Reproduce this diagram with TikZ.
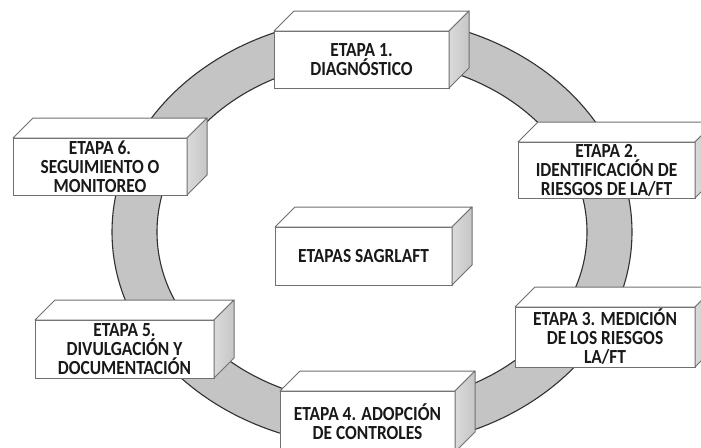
\documentclass[tikz,border=0pt]{standalone}
\usepackage{fontspec}
\setmainfont{Carlito}[FakeStretch=0.87]
\definecolor{ringfill}{HTML}{C4C4C4}
\definecolor{ringedge}{HTML}{303030}
\definecolor{boxedge}{HTML}{707070}
\definecolor{sidel}{HTML}{DADADA}
\definecolor{sider}{HTML}{C6C6C6}
\newcommand\cubefaces[1]{%
  \draw[topface] (#1.north west) -- ++(20,-20) -- ([shift={(20,-20)}]#1.north east) -- (#1.north east) -- cycle;
  \draw[sideface] (#1.north east) -- ++(20,-20) -- ([shift={(20,-20)}]#1.south east) -- (#1.south east) -- cycle;
}
\tikzset{
  front/.style={draw=boxedge, fill=white, line width=1pt, inner sep=0pt, outer sep=0pt,
    align=center, text=black!90, font=\fontsize{20}{19}\selectfont\bfseries},
  topface/.style={draw=boxedge, fill=white, line width=1pt, line join=round},
  sideface/.style={draw=boxedge, left color=sidel, right color=sider, line width=1pt, line join=round},
  ring/.style={fill=ringfill, even odd rule},
  ringline/.style={draw=ringedge, line width=1.1pt}
}
\begin{document}
\begin{tikzpicture}[x=1pt,y=-1pt]
\clip (0,0) rectangle (701,447);
\fill[white] (0,0) rectangle (701,447);
% ring
\coordinate (rc) at (372,232);
\fill[ring] (rc) ellipse [x radius=260, y radius=215] (rc) ellipse [x radius=215, y radius=172];
\draw[ringline] (rc) ellipse [x radius=260, y radius=215];
\draw[ringline] (rc) ellipse [x radius=215, y radius=172];
% boxes
\node[front, minimum width=175, minimum height=57] (b1) at (361.5,59.5) {ETAPA 1.\\DIAGNÓSTICO};
\cubefaces{b1}
\node[front, minimum width=174, minimum height=57] (b6) at (100,166.5) {ETAPA 6.\\SEGUIMIENTO O\\MONITOREO};
\cubefaces{b6}
\node[front, minimum width=177, minimum height=56] (b2) at (606.5,170) {ETAPA 2.\\IDENTIFICACIÓN DE\\RIESGOS DE LA/FT};
\cubefaces{b2}
\node[front, minimum width=177, minimum height=58] (bc) at (363.5,256) {ETAPAS SAGRLAFT};
\cubefaces{bc}
\node[front, minimum width=179, minimum height=58] (b5) at (124.5,349) {ETAPA 5.\\DIVULGACIÓN Y\\DOCUMENTACIÓN};
\cubefaces{b5}
\node[front, minimum width=180, minimum height=60] (b3) at (605,337) {ETAPA 3. MEDICIÓN\\DE LOS RIESGOS\\LA/FT};
\cubefaces{b3}
\node[front, minimum width=175, minimum height=61] (b4) at (367.5,421.5) {ETAPA 4. ADOPCIÓN\\DE CONTROLES};
\cubefaces{b4}
\end{tikzpicture}
\end{document}
